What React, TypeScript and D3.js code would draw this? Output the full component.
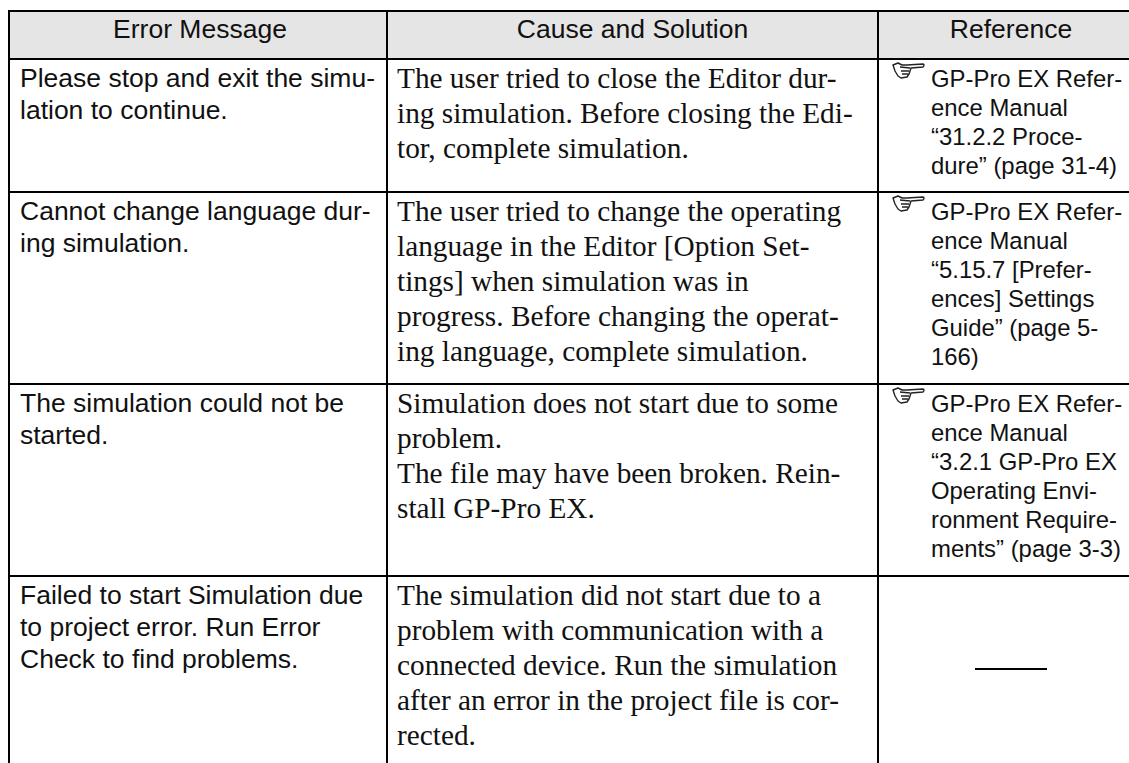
import React from "react";
import * as d3 from "d3";

const columns = ["Error Message", "Cause and Solution", "Reference"];

const messages = [
  ["Please stop and exit the simu-", "lation to continue."],
  ["Cannot change language dur-", "ing simulation."],
  ["The simulation could not be", "started."],
  ["Failed to start Simulation due", "to project error. Run Error", "Check to find problems."],
];

const causes = [
  ["The user tried to close the Editor dur-", "ing simulation. Before closing the Edi-", "tor, complete simulation."],
  [
    "The user tried to change the operating",
    "language in the Editor [Option Set-",
    "tings] when simulation was in",
    "progress. Before changing the operat-",
    "ing language, complete simulation.",
  ],
  [
    "Simulation does not start due to some",
    "problem.",
    "The file may have been broken. Rein-",
    "stall GP-Pro EX.",
  ],
  [
    "The simulation did not start due to a",
    "problem with communication with a",
    "connected device. Run the simulation",
    "after an error in the project file is cor-",
    "rected.",
  ],
];

const references = [
  ["GP-Pro EX Refer-", "ence Manual", "“31.2.2 Proce-", "dure” (page 31-4)"],
  ["GP-Pro EX Refer-", "ence Manual", "“5.15.7 [Prefer-", "ences] Settings", "Guide” (page 5-", "166)"],
  ["GP-Pro EX Refer-", "ence Manual", "“3.2.1 GP-Pro EX", "Operating Envi-", "ronment Require-", "ments” (page 3-3)"],
  [],
];

// table runs off the right and bottom of the page, so no closing lines there
const rowLines = [11, 59, 192, 384, 576];
const colLines = [9, 387, 878, 1144];

const sans = "'Liberation Sans', Arial, sans-serif";
const serif = "'Liberation Serif', 'Times New Roman', serif";

const sansSize = 26.5;
const serifSize = 29.3;
const refSize = 23.9;

const W = 1129;
const H = 763;

const lineY = (top: number, offset: number, step: number) =>
  d3.scaleLinear().domain([0, 1]).range([top + offset, top + offset + step]);

const Hand = ({ tx, ty }: { tx: number; ty: number }) => (
  <g transform={`translate(${tx},${ty})`} fill="none" stroke="#222" strokeWidth={1.4} strokeLinejoin="round">
    <path
      d="M1 3 L6 1 L10 3 L15 3 L31 2 Q33 3 31 5 L19 6 L18 9 L17 12 L15 15 L9 16 L6 14 L3 9 Z"
      fill="#fff"
    />
    <path d="M8 5 L18 6 M9 9 L17 9 M10 12 L16 12" />
  </g>
);

const App = () => {
  return (
    <svg width={W} height={H} style={{ position: "absolute", left: 0, top: 0 }}>
      <rect x={colLines[0]} y={rowLines[0]} width={W - colLines[0]} height={rowLines[1] - rowLines[0]} fill="#e5e5e5" />
      {rowLines.map((d) => (
        <line key={"r" + d} x1={colLines[0] - 1} x2={W} y1={d} y2={d} stroke="#000" strokeWidth={2} />
      ))}
      {colLines.slice(0, 3).map((d) => (
        <line key={"c" + d} x1={d} x2={d} y1={rowLines[0]} y2={H} stroke="#000" strokeWidth={2} />
      ))}
      {columns.map((c, i) => (
        <text key={c} x={(colLines[i] + colLines[i + 1]) / 2 + (i === 0 ? 2 : 0)} y={38} textAnchor="middle" fontFamily={sans} fontSize={sansSize} fill="#111">
          {c}
        </text>
      ))}
      {messages.map((lines, r) => {
        const y = lineY(rowLines[r + 1], 27.5, 32.4);
        return lines.map((t, i) => (
          <text key={t} x={20} y={y(i)} fontFamily={sans} fontSize={sansSize} fill="#111">
            {t}
          </text>
        ));
      })}
      {causes.map((lines, r) => {
        const y = lineY(rowLines[r + 1], 29, 35);
        return lines.map((t, i) => (
          <text key={t} x={397} y={y(i)} fontFamily={serif} fontSize={serifSize} fill="#111">
            {t}
          </text>
        ));
      })}
      {references.map((lines, r) => {
        const y = lineY(rowLines[r + 1], 27.5, 29);
        return (
          <g key={r}>
            {lines.length > 0 && <Hand tx={892} ty={rowLines[r + 1] + 3} />}
            {lines.map((t, i) => (
              <text key={i} x={931} y={y(i)} fontFamily={sans} fontSize={refSize} fill="#111">
                {t}
              </text>
            ))}
          </g>
        );
      })}
      <line x1={975} x2={1047} y1={669} y2={669} stroke="#000" strokeWidth={2} />
    </svg>
  );
};

export default App;
